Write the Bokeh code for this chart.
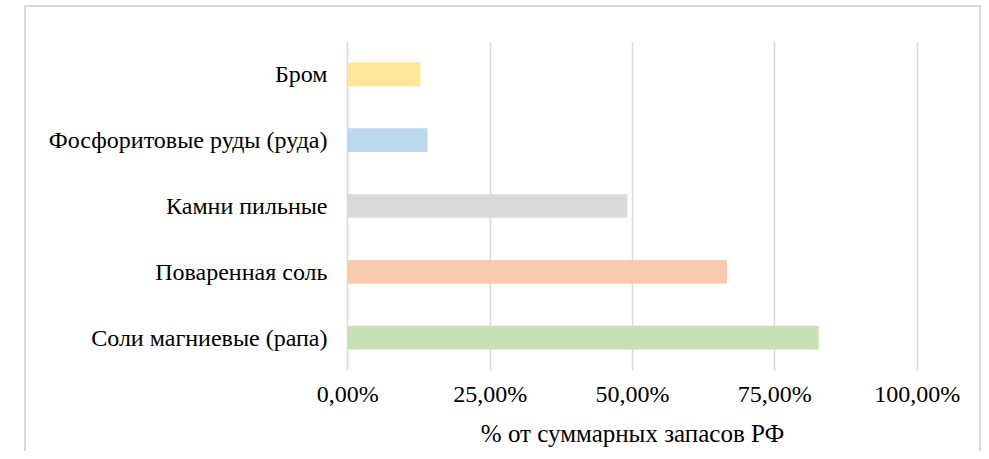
from bokeh.plotting import figure
from bokeh.models import FactorRange, Range1d, FixedTicker, CustomJSTickFormatter, ColumnDataSource
from bokeh.embed import file_html
from bokeh.resources import INLINE

categories = ["Соли магниевые (рапа)", "Поваренная соль", "Камни пильные",
              "Фосфоритовые руды (руда)", "Бром"]
values = [0.827, 0.666, 0.491, 0.140, 0.128]
colors = ["#C5E0B4", "#F8CBAD", "#D9D9D9", "#BDD7EE", "#FFE699"]
tick_values = [0.0, 0.25, 0.5, 0.75, 1.0]
x_title = "% от суммарных запасов РФ"

FONT = "'Liberation Serif', 'Times New Roman', 'DejaVu Serif', serif"
LINE = "#D9D9D9"

src = ColumnDataSource(dict(cat=categories, val=values, color=colors))

p = figure(width=981, height=451, output_backend="svg", toolbar_location=None,
           y_range=FactorRange(*categories, range_padding=0),
           x_range=Range1d(-0.004, 1.004),
           min_border_left=345, min_border_right=62, min_border_top=41, min_border_bottom=81)
p.hbar(y="cat", right="val", left=0, height=0.36, color="color", line_color=None, source=src)

p.outline_line_color = None
p.background_fill_color = "white"
p.border_fill_color = None
p.ygrid.grid_line_color = None
p.xgrid.grid_line_color = LINE
p.xgrid.grid_line_width = 1.5
p.xgrid.ticker = FixedTicker(ticks=tick_values)

p.xaxis.ticker = FixedTicker(ticks=tick_values)
p.xaxis.formatter = CustomJSTickFormatter(code="return (tick*100).toFixed(2).replace('.', ',') + '%';")
p.xaxis.axis_line_color = None
p.xaxis.major_tick_line_color = None
p.xaxis.major_tick_out = 0
p.xaxis.major_tick_in = 0
p.xaxis.minor_tick_line_color = None
p.xaxis.minor_tick_out = 0
p.xaxis.major_label_text_font = FONT
p.xaxis.major_label_text_font_size = "24px"
p.xaxis.major_label_text_color = "black"
p.xaxis.major_label_standoff = 10
p.xaxis.axis_label = x_title
p.xaxis.axis_label_text_font = FONT
p.xaxis.axis_label_text_font_style = "normal"
p.xaxis.axis_label_text_font_size = "25px"
p.xaxis.axis_label_text_color = "black"
p.xaxis.axis_label_standoff = 10

p.yaxis.axis_line_color = None
p.yaxis.major_tick_line_color = None
p.yaxis.major_tick_out = 0
p.yaxis.major_tick_in = 0
p.yaxis.minor_tick_line_color = None
p.yaxis.minor_tick_out = 0
p.yaxis.major_label_text_font = FONT
p.yaxis.major_label_text_font_size = "24px"
p.yaxis.major_label_text_color = "black"
p.yaxis.major_label_standoff = 18

# outer chart-area border drawn as host background lines
g = f"linear-gradient({LINE},{LINE})"
p.styles = {
    "background": (f"{g} 24px 5px / 2px 100% no-repeat, "
                   f"{g} 24px 5px / 100% 2px no-repeat, "
                   f"{g} 979px 5px / 2px 100% no-repeat, white"),
}

open("out.html", "w").write(file_html(p, INLINE))
